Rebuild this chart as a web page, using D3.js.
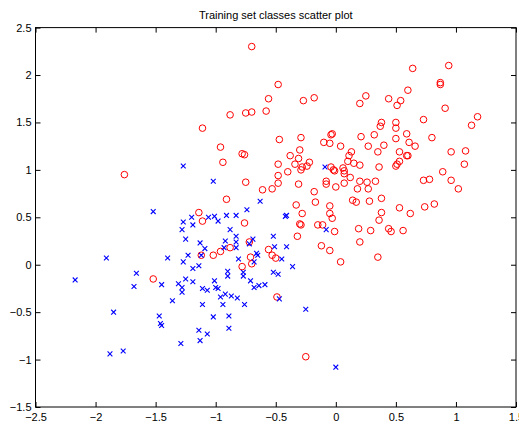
<!DOCTYPE html>
<html>
<head>
<meta charset="utf-8">
<script src="https://cdn.jsdelivr.net/npm/d3@7"></script>
<style>
  html, body { margin: 0; padding: 0; background: #fff; }
  svg { display: block; }
  text { font-family: "Liberation Sans", Arial, Helvetica, sans-serif; fill: #000; }
</style>
</head>
<body>
<svg id="chart" width="519" height="422"></svg>
<script>
// Class 1 (red circles)
const classOneX = [
  -1.76, -1.52, -0.70, -0.48, -0.56, -0.27, -0.18, -0.88, -0.75, -0.70,
  -0.58, -1.11, -0.47, -0.29, -0.10, -0.05, -0.04, -0.03, -0.96, -0.30,
  -0.78, -0.76, -0.38, -0.31, -0.94, -0.48, -0.34, -0.28, -0.29, -0.24,
  -0.22, -0.40, -0.48, -0.48, -0.31, -0.53, -0.61, -0.75, -0.91, -0.18,
  -0.17, -0.33, -0.28, -0.30, -0.29, -0.32, -0.15, -0.11, -0.05, -0.05,
  -0.03, -0.01, -0.08, -0.08, -0.04, -0.02, -1.14, -1.11, -0.76, -0.88,
  -0.72, -0.96, -0.56, -0.53, -0.50, -1.12, -0.71, -1.02, -0.05, -0.12,
  -0.70, -0.78, -0.49, -0.25, 0.64, 0.94, 0.87, 0.87, 0.60, 0.25,
  0.20, 0.44, 0.54, 0.51, 0.91, 1.18, 1.13, 0.73, 0.38, 0.37,
  0.50, 0.50, 0.32, 0.59, 0.21, 0.50, 0.80, 0.61, 0.66, 0.04,
  0.27, 0.40, 0.13, 0.11, 0.35, 0.53, 0.96, 1.08, 0.59, 0.60,
  0.53, 0.51, 0.50, 0.36, 0.20, 1.07, 0.89, 0.73, 0.78, 0.96,
  1.02, 0.07, 0.12, 0.20, 0.26, 0.33, 0.00, 0.18, 0.27, 0.38,
  0.14, 0.17, 0.28, 0.53, 0.62, 0.74, 0.82, 0.38, 0.36, 0.19,
  0.29, 0.44, 0.46, 0.56, 0.20, 0.04, 0.35, 0.10, 0.15, 0.06,
  0.07, 0.07, -0.01
];
const classOneY = [
  0.95, -0.15, 2.30, 1.90, 1.75, 1.73, 1.76, 1.58, 1.60, 1.61,
  1.62, 1.44, 1.32, 1.34, 1.29, 1.28, 1.37, 1.38, 1.24, 1.21,
  1.17, 1.16, 1.15, 1.12, 1.08, 1.06, 1.06, 1.03, 1.00, 1.04,
  1.08, 0.98, 0.94, 0.86, 0.85, 0.80, 0.79, 0.87, 0.69, 0.77,
  0.66, 0.63, 0.54, 0.43, 0.42, 0.30, 0.42, 0.42, 0.62, 0.54,
  0.49, 0.35, 0.88, 0.85, 1.03, 1.00, 0.55, 0.46, 0.44, 0.18,
  0.24, 0.14, 0.16, 0.10, 0.07, 0.10, 0.08, 0.10, 0.15, 0.20,
  0.01, -0.02, -0.34, -0.97, 2.07, 2.10, 1.92, 1.90, 1.84, 1.78,
  1.70, 1.75, 1.73, 1.68, 1.65, 1.56, 1.47, 1.53, 1.50, 1.46,
  1.50, 1.44, 1.37, 1.38, 1.35, 1.33, 1.34, 1.29, 1.25, 1.25,
  1.25, 1.26, 1.19, 1.15, 1.19, 1.19, 1.19, 1.20, 1.15, 1.15,
  1.09, 1.06, 1.04, 1.03, 1.05, 1.06, 0.98, 0.89, 0.90, 0.89,
  0.80, 0.86, 0.92, 0.88, 0.87, 0.88, 0.82, 0.80, 0.80, 0.70,
  0.68, 0.66, 0.67, 0.60, 0.54, 0.61, 0.64, 0.55, 0.47, 0.38,
  0.36, 0.38, 0.35, 0.36, 0.24, 0.03, 0.08, 1.09, 1.07, 1.02,
  0.99, 0.96, 0.99
];

// Class 2 (blue crosses)
const classTwoX = [
  -1.27, -1.52, -1.27, -1.20, -1.19, -1.28, -1.25, -1.91, -1.40, -1.23,
  -1.27, -1.19, -2.17, -1.66, -1.68, -1.45, -1.31, -1.25, -1.19, -1.28,
  -1.28, -1.36, -1.85, -1.47, -1.46, -1.45, -1.29, -1.77, -1.88, -0.09,
  -1.02, -0.63, -0.74, -0.91, -0.83, -1.01, -1.06, -0.98, -0.42, -0.41,
  -0.88, -0.83, -0.92, -0.83, -0.69, -0.52, -1.13, -1.09, -0.93, -0.83,
  -0.72, -0.51, -0.41, -0.45, -1.12, -0.66, -0.65, -0.81, -0.08, -0.68,
  -0.36, -1.14, -0.90, -0.90, -0.77, -0.77, -0.52, -0.48, -1.01, -0.71,
  -0.68, -0.64, -0.59, -1.11, -1.07, -1.00, -0.98, -0.96, -0.92, -0.87,
  -0.82, -1.11, -0.94, -0.76, -0.47, -0.25, -1.02, -0.89, -0.89, -1.14,
  -1.07, -1.13, 0.00
];
const classTwoY = [
  1.04, 0.56, 0.45, 0.50, 0.42, 0.37, 0.27, 0.07, 0.07, 0.10,
  0.03, -0.04, -0.16, -0.09, -0.23, -0.21, -0.20, -0.15, -0.18, -0.24,
  -0.29, -0.38, -0.50, -0.54, -0.62, -0.64, -0.83, -0.91, -0.94, 1.03,
  0.88, 0.67, 0.58, 0.52, 0.52, 0.51, 0.50, 0.46, 0.51, 0.52,
  0.37, 0.30, 0.25, 0.24, 0.27, 0.30, 0.23, 0.17, 0.18, 0.18,
  0.22, 0.19, 0.19, 0.06, 0.10, 0.12, 0.10, 0.06, 0.37, 0.03,
  -0.02, -0.01, -0.07, -0.12, -0.08, -0.12, -0.08, -0.10, -0.17, -0.17,
  -0.24, -0.22, -0.21, -0.25, -0.27, -0.24, -0.25, -0.34, -0.31, -0.33,
  -0.35, -0.42, -0.42, -0.42, -0.36, -0.47, -0.55, -0.54, -0.67, -0.69,
  -0.73, -0.80, -1.08
];

// Axis ticks and their labels
const xTicks = [-2.5, -2, -1.5, -1, -0.5, 0, 0.5, 1, 1.5];
const xTickLabels = ["\u22122.5", "\u22122", "\u22121.5", "\u22121", "\u22120.5", "0", "0.5", "1", "1.5"];
const yTicks = [-1.5, -1, -0.5, 0, 0.5, 1, 1.5, 2, 2.5];
const yTickLabels = ["\u22121.5", "\u22121", "\u22120.5", "0", "0.5", "1", "1.5", "2", "2.5"];

const titleText = "Training set classes scatter plot";

const svg = d3.select("#chart");
const plotLeft = 35.5, plotRight = 516, plotTop = 27.6, plotBottom = 407;

const x = d3.scaleLinear().domain([xTicks[0], xTicks[xTicks.length - 1]]).range([plotLeft, plotRight]);
const y = d3.scaleLinear().domain([yTicks[0], yTicks[yTicks.length - 1]]).range([plotBottom, plotTop]);

const fontSize = 11;
const tickLen = 5;

// Axes: inward ticks on all four sides, labels on bottom and left only
const xLabel = d => xTickLabels[xTicks.indexOf(d)];
const yLabel = d => yTickLabels[yTicks.indexOf(d)];

const gB = svg.append("g").attr("transform", `translate(0,${plotBottom})`)
  .call(d3.axisBottom(x).tickValues(xTicks).tickFormat(xLabel)
    .tickSizeInner(-tickLen).tickSizeOuter(0).tickPadding(6));
const gT = svg.append("g").attr("transform", `translate(0,${plotTop})`)
  .call(d3.axisTop(x).tickValues(xTicks).tickFormat("")
    .tickSizeInner(-tickLen).tickSizeOuter(0));
const gL = svg.append("g").attr("transform", `translate(${plotLeft},0)`)
  .call(d3.axisLeft(y).tickValues(yTicks).tickFormat(yLabel)
    .tickSizeInner(-tickLen).tickSizeOuter(0).tickPadding(4));
const gR = svg.append("g").attr("transform", `translate(${plotRight},0)`)
  .call(d3.axisRight(y).tickValues(yTicks).tickFormat("")
    .tickSizeInner(-tickLen).tickSizeOuter(0));

[gB, gT, gL, gR].forEach(g => {
  g.select(".domain").remove();
  g.selectAll(".tick line").attr("stroke", "#000").attr("stroke-width", 1);
  g.selectAll(".tick text")
    .attr("font-family", "'Liberation Sans', Arial, Helvetica, sans-serif")
    .attr("font-size", fontSize)
    .attr("fill", "#000");
});

// Plot frame
svg.append("rect")
  .attr("x", plotLeft).attr("y", plotTop)
  .attr("width", plotRight - plotLeft).attr("height", plotBottom - plotTop)
  .attr("fill", "none").attr("stroke", "#000").attr("stroke-width", 1);

// Title
svg.append("text")
  .attr("x", (plotLeft + plotRight) / 2).attr("y", 19)
  .attr("text-anchor", "middle")
  .attr("font-size", fontSize)
  .text(titleText);

// Red circles
const classOne = classOneX.map((v, i) => ({ x: v, y: classOneY[i] }));
svg.append("g").selectAll("circle")
  .data(classOne).join("circle")
  .attr("cx", d => x(d.x)).attr("cy", d => y(d.y))
  .attr("r", 3.3)
  .attr("fill", "none").attr("stroke", "#ff0000").attr("stroke-width", 1);

// Blue crosses
const classTwo = classTwoX.map((v, i) => ({ x: v, y: classTwoY[i] }));
const s = 2.4;
svg.append("g").selectAll("path")
  .data(classTwo).join("path")
  .attr("d", d => {
    const cx = x(d.x), cy = y(d.y);
    return `M${cx - s},${cy - s}L${cx + s},${cy + s}M${cx - s},${cy + s}L${cx + s},${cy - s}`;
  })
  .attr("fill", "none").attr("stroke", "#0000ff").attr("stroke-width", 1.1);
</script>
</body>
</html>
